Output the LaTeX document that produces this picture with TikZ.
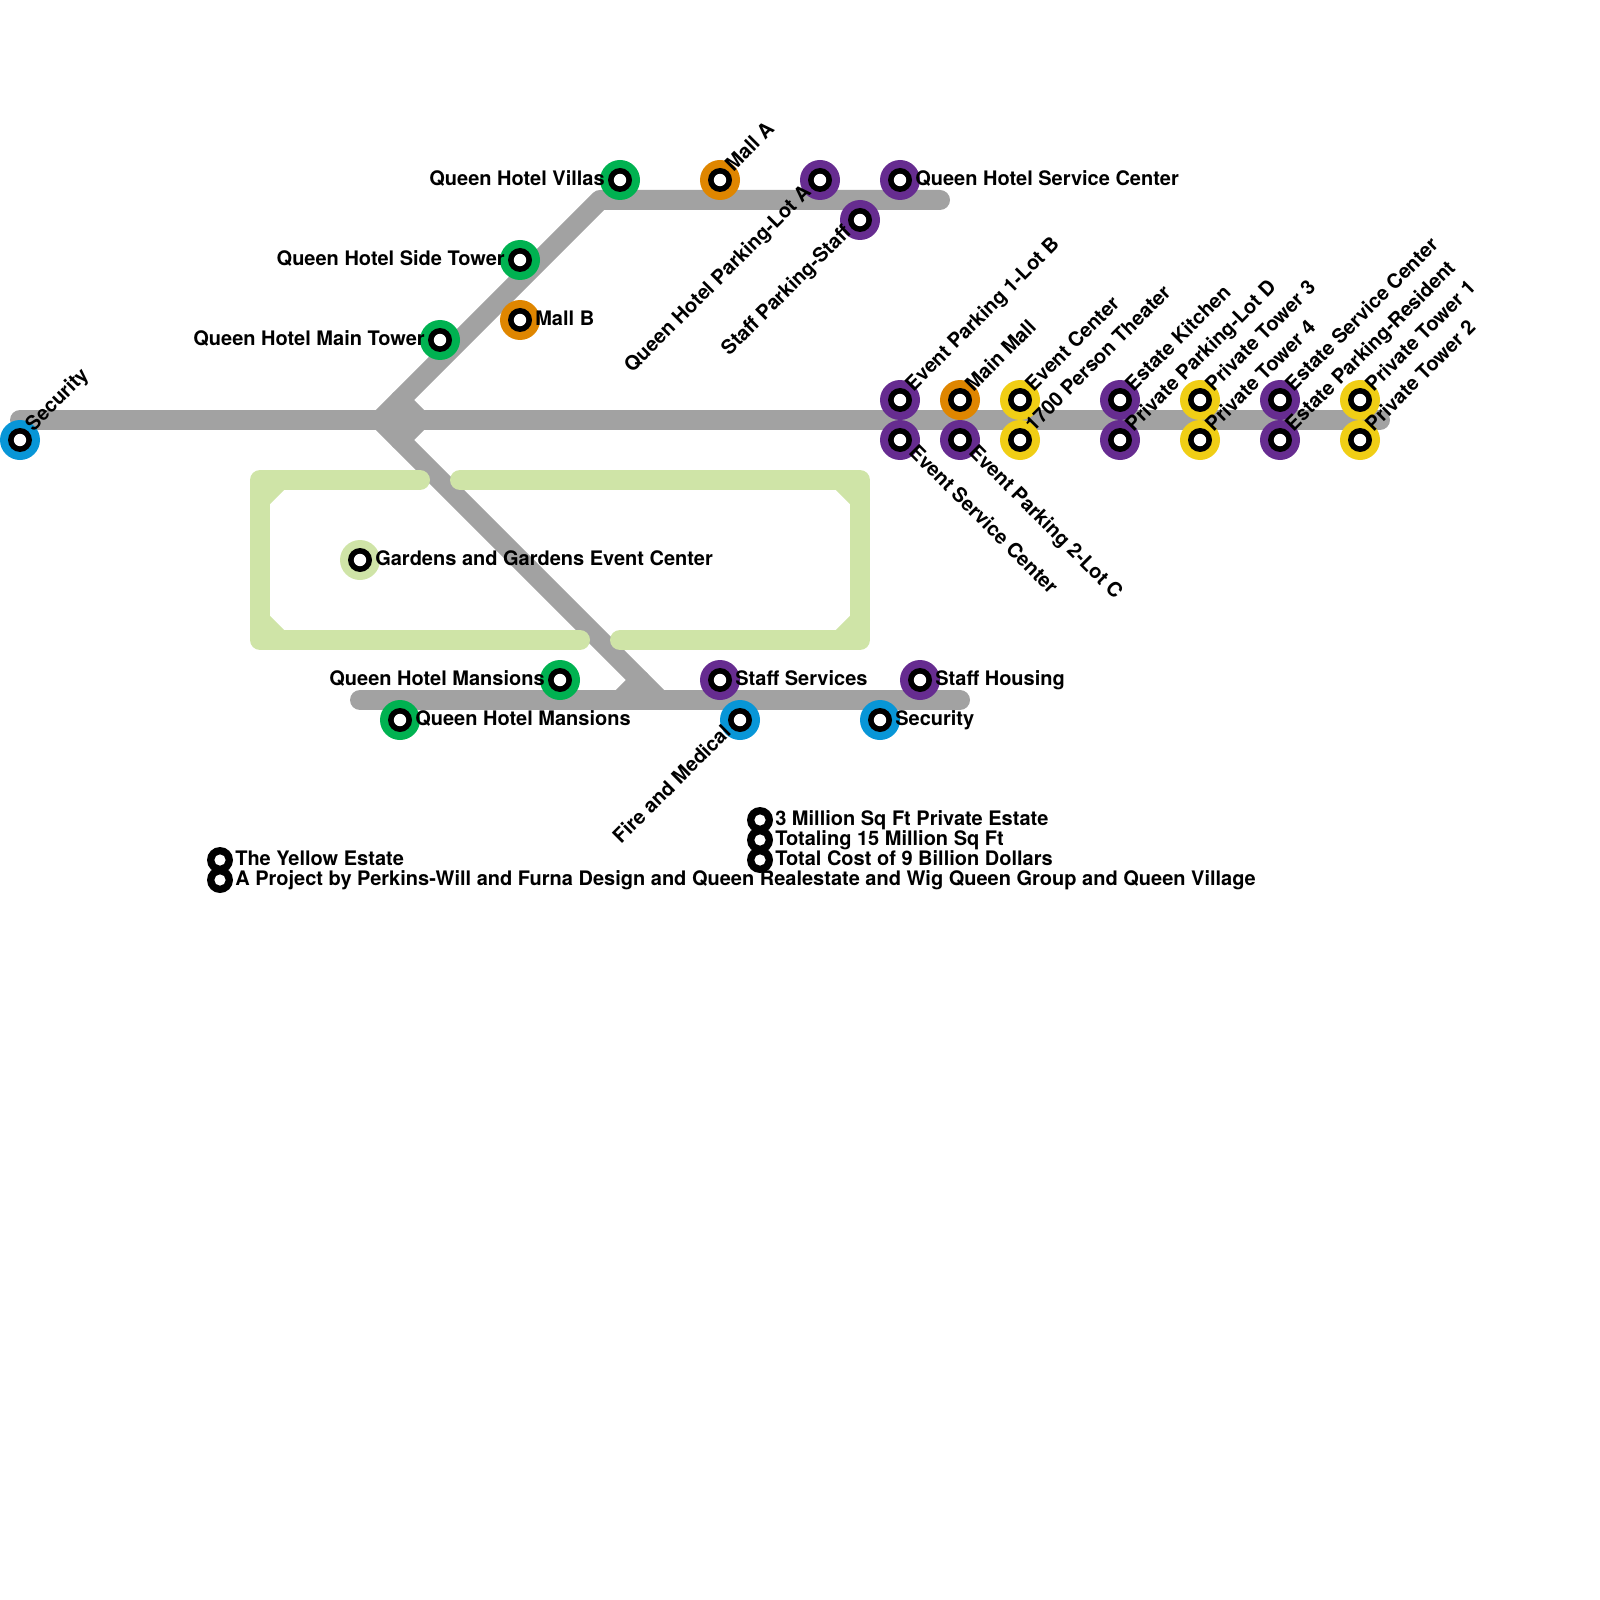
\documentclass[tikz,border=0pt]{standalone}
\usepackage{fontspec}
\setmainfont{TeX Gyre Heros}
\usepackage{xcolor}
\definecolor{mapgray}{HTML}{A2A2A2}
\definecolor{mapsage}{HTML}{CFE4A7}
\definecolor{mapblue}{HTML}{0896D7}
\definecolor{mapgreen}{HTML}{00B251}
\definecolor{mappurple}{HTML}{662C90}
\definecolor{maporange}{HTML}{DF8600}
\definecolor{mapyellow}{HTML}{F0CE15}

\begin{document}
\begin{tikzpicture}[x=0.25mm, y=-0.25mm,
    track/.style={draw=mapgray, line width=5mm, line cap=round, line join=round},
    garden/.style={draw=mapsage, line width=5mm, line cap=round, line join=round},
    stop/.style={circle, inner sep=0pt, minimum size=10mm, fill=#1,
        path picture={
            \fill[black] (path picture bounding box.center) circle (3mm);
            \fill[white] (path picture bounding box.center) circle (1.55mm);
        }},
    note/.style={circle, inner sep=0pt, minimum size=6.5mm, fill=black,
        path picture={\fill[white] (path picture bounding box.center) circle (1.4mm);}},
    txt/.style={font=\fontsize{14.23}{16}\selectfont\bfseries, inner sep=0pt},
    toright/.style={txt, anchor=base west, xshift=3.75mm, yshift=-1.4mm},
    toleft/.style={txt, anchor=base east, xshift=-3.75mm, yshift=-1.4mm},
    upright/.style={txt, anchor=base west, rotate=45, xshift=3.75mm, yshift=-1mm},
    upleft/.style={txt, anchor=base east, rotate=45, xshift=-3.75mm, yshift=-1mm},
    downright/.style={txt, anchor=base west, rotate=-45, xshift=3.75mm, yshift=-1mm}]
    \useasboundingbox (0,0) rectangle (1600,1600);

    \coordinate (midw) at (20,420);
    \coordinate (mide) at (1380,420);
    \coordinate (topw) at (600,200);
    \coordinate (tope) at (940,200);
    \coordinate (forkw) at (380,420);
    \coordinate (forkn) at (400,400);
    \coordinate (forkm) at (420,420);
    \coordinate (forks) at (400,440);
    \coordinate (lowa) at (640,680);
    \coordinate (lowb) at (620,700);
    \coordinate (lowc) at (660,700);
    \coordinate (loww) at (360,700);
    \coordinate (lowe) at (960,700);
    \coordinate (gnw) at (260,480);
    \coordinate (gsw) at (260,640);
    \coordinate (gne) at (860,480);
    \coordinate (gse) at (860,640);

    \draw[track] (midw) -- (mide);
    \draw[track] (tope) -- (topw) -- (forkw) -- (lowc);
    \draw[track] (forkn) -- (forkm) -- (forks);
    \draw[track] (lowa) -- (lowb);
    \draw[track] (loww) -- (lowe);

    \draw[garden] (420,480) -- (gnw) -- (gsw) -- (580,640);
    \draw[garden] (260,500) -- (280,480);
    \draw[garden] (260,620) -- (280,640);
    \draw[garden] (460,480) -- (gne) -- (gse) -- (620,640);
    \draw[garden] (840,480) -- (860,500);
    \draw[garden] (860,620) -- (840,640);

    \node[stop=mapblue] (secw) at (20,440) {};
    \node[stop=mapgreen] (villas) at (620,180) {};
    \node[stop=maporange] (malla) at (720,180) {};
    \node[stop=mappurple] (lota) at (820,180) {};
    \node[stop=mappurple] (service) at (900,180) {};
    \node[stop=mappurple] (staffpark) at (860,220) {};
    \node[stop=mapgreen] (side) at (520,260) {};
    \node[stop=maporange] (mallb) at (520,320) {};
    \node[stop=mapgreen] (main) at (440,340) {};
    \node[stop=mappurple] (lotb) at (900,400) {};
    \node[stop=maporange] (mainmall) at (960,400) {};
    \node[stop=mapyellow] (event) at (1020,400) {};
    \node[stop=mappurple] (kitchen) at (1120,400) {};
    \node[stop=mapyellow] (tower3) at (1200,400) {};
    \node[stop=mappurple] (estate) at (1280,400) {};
    \node[stop=mapyellow] (tower1) at (1360,400) {};
    \node[stop=mappurple] (evserv) at (900,440) {};
    \node[stop=mappurple] (lotc) at (960,440) {};
    \node[stop=mapyellow] (theater) at (1020,440) {};
    \node[stop=mappurple] (lotd) at (1120,440) {};
    \node[stop=mapyellow] (tower4) at (1200,440) {};
    \node[stop=mappurple] (resident) at (1280,440) {};
    \node[stop=mapyellow] (tower2) at (1360,440) {};
    \node[stop=mapsage] (gardens) at (360,560) {};
    \node[stop=mapgreen] (mansa) at (560,680) {};
    \node[stop=mapgreen] (mansb) at (400,720) {};
    \node[stop=mappurple] (services) at (720,680) {};
    \node[stop=mappurple] (housing) at (920,680) {};
    \node[stop=mapblue] (fire) at (740,720) {};
    \node[stop=mapblue] (secs) at (880,720) {};
    \node[note] (yellow) at (220,860) {};
    \node[note] (project) at (220,880) {};
    \node[note] (sqft) at (760,820) {};
    \node[note] (total) at (760,840) {};
    \node[note] (cost) at (760,860) {};

    \node[upright] (secwl) at (secw) {Security};
    \node[toleft] (villasl) at (villas) {Queen Hotel Villas};
    \node[upright] (mallal) at (malla) {Mall A};
    \node[upleft] (lotal) at (lota) {Queen Hotel Parking-Lot A};
    \node[toright] (servicel) at (service) {Queen Hotel Service Center};
    \node[upleft] (staffparkl) at (staffpark) {Staff Parking-Staff};
    \node[toleft] (sidel) at (side) {Queen Hotel Side Tower};
    \node[toright] (mallbl) at (mallb) {Mall B};
    \node[toleft] (mainl) at (main) {Queen Hotel Main Tower};
    \node[upright] (lotbl) at (lotb) {Event Parking 1-Lot B};
    \node[upright] (mainmalll) at (mainmall) {Main Mall};
    \node[upright] (eventl) at (event) {Event Center};
    \node[upright] (kitchenl) at (kitchen) {Estate Kitchen};
    \node[upright] (tower3l) at (tower3) {Private Tower 3};
    \node[upright] (estatel) at (estate) {Estate Service Center};
    \node[upright] (tower1l) at (tower1) {Private Tower 1};
    \node[downright] (evservl) at (evserv) {Event Service Center};
    \node[downright] (lotcl) at (lotc) {Event Parking 2-Lot C};
    \node[upright] (theaterl) at (theater) {1700 Person Theater};
    \node[upright] (lotdl) at (lotd) {Private Parking-Lot D};
    \node[upright] (tower4l) at (tower4) {Private Tower 4};
    \node[upright] (residentl) at (resident) {Estate Parking-Resident};
    \node[upright] (tower2l) at (tower2) {Private Tower 2};
    \node[toright] (gardensl) at (gardens) {Gardens and Gardens Event Center};
    \node[toleft] (mansal) at (mansa) {Queen Hotel Mansions};
    \node[toright] (mansbl) at (mansb) {Queen Hotel Mansions};
    \node[toright] (servicesl) at (services) {Staff Services};
    \node[toright] (housingl) at (housing) {Staff Housing};
    \node[upleft] (firel) at (fire) {Fire and Medical};
    \node[toright] (secsl) at (secs) {Security};
    \node[toright] (yellowl) at (yellow) {The Yellow Estate};
    \node[toright] (projectl) at (project) {A Project by Perkins-Will and Furna Design and Queen Realestate and Wig Queen Group and Queen Village};
    \node[toright] (sqftl) at (sqft) {3 Million Sq Ft Private Estate};
    \node[toright] (totall) at (total) {Totaling 15 Million Sq Ft};
    \node[toright] (costl) at (cost) {Total Cost of 9 Billion Dollars};
\end{tikzpicture}
\end{document}
